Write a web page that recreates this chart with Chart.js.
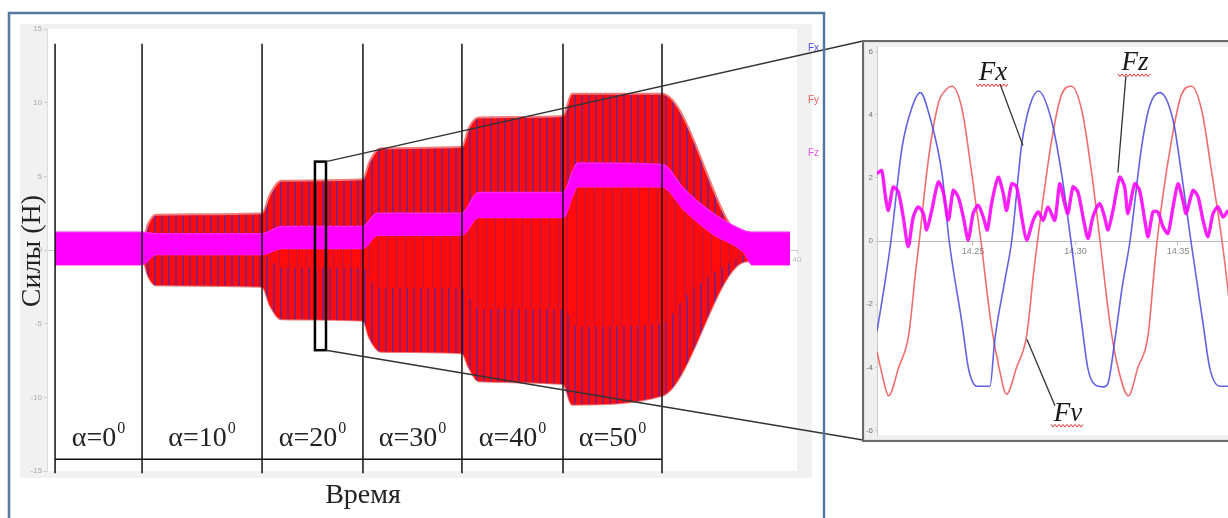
<!DOCTYPE html>
<html lang="ru">
<head>
<meta charset="UTF-8">
<title>Силы – время</title>
<script src="https://cdn.jsdelivr.net/npm/chart.js"></script>
<style>
  body { margin: 0; background: #fff; width: 1228px; height: 518px; overflow: hidden; position: relative; }
  #mainBox { position: absolute; left: 0; top: 0; width: 1228px; height: 518px; }
  #zoomBox { position: absolute; left: 862px; top: 40px; width: 378px; height: 402px; z-index: 2; }
</style>
</head>
<body>
<div id="mainBox"><canvas id="mainChart"></canvas></div>
<div id="zoomBox"><canvas id="zoomChart"></canvas></div>
<script>
// ---- left chart: envelopes of the dense oscillation (time in s, force in N)
const fyTimes = [0.43, 5.07, 5.4, 5.8, 11.47, 11.9, 12.5, 16.85, 17.2, 17.8, 22.13, 22.5, 23.0, 27.52, 28.0, 32.8, 37.2, 39.63];
const fyUpper = [0.6, 0.6, 1.8, 2.4, 2.5, 3.8, 4.7, 4.8, 6.0, 6.9, 7.0, 8.3, 9.0, 9.1, 10.6, 10.6, 0.8, 0.6];
const fyLower = [-0.6, -0.6, -1.8, -2.4, -2.5, -3.8, -4.7, -4.8, -6.0, -6.9, -7.0, -8.0, -8.9, -9.1, -10.5, -9.9, -0.8, -0.6];

// solid red core of Fy just below the Fz band
const coreTimes = [5.07, 5.8, 11.47, 12.5, 16.85, 17.6, 22.13, 23.0, 27.52, 28.3, 32.8, 34.0, 35.5, 37.2];
const coreUpper = [-0.6, -0.3, -0.3, 0.1, 0.1, 1.0, 1.0, 2.2, 2.2, 4.3, 4.3, 2.7, 1.1, -0.2];
const coreLower = [-0.6, -0.3, -0.3, -1.2, -1.2, -2.6, -2.6, -4.0, -4.0, -5.2, -5.0, -3.2, -1.6, -0.3];

const fzTimes = [0.43, 5.07, 5.8, 11.47, 12.5, 16.85, 17.6, 22.13, 23.0, 27.52, 28.3, 32.8, 34.0, 35.5, 37.2, 37.6, 39.63];
const fzUpper = [1.2, 1.2, 1.1, 1.1, 1.6, 1.6, 2.5, 2.5, 3.9, 3.9, 5.9, 5.8, 4.1, 2.5, 1.3, 1.2, 1.2];
const fzLower = [-1.0, -1.0, -0.3, -0.3, 0.1, 0.1, 1.0, 1.0, 2.2, 2.2, 4.3, 4.3, 2.7, 1.1, -0.2, -1.0, -1.0];

const dividerTimes = [0.43, 5.07, 11.47, 16.85, 22.13, 27.52, 32.8];
const angleLabels = ['0', '10', '20', '30', '40', '50'];
const zoomRectTimes = [14.29, 14.88];
const zoomRectValues = [6.0, -6.8];

// ---- right chart: zoomed window 14.20 … 14.38 s
const fxTime = [14.2032, 14.2071, 14.2100, 14.2154, 14.2202, 14.2243, 14.2292, 14.2349, 14.2384, 14.2446,
  14.2479, 14.2520, 14.2583, 14.2607, 14.2656, 14.2689, 14.2738, 14.2778, 14.2819, 14.2884,
  14.2933, 14.2978, 14.3030, 14.3061, 14.3095, 14.3139, 14.3159, 14.3193, 14.3227, 14.3266,
  14.3323, 14.3363, 14.3412, 14.3477, 14.3518, 14.3563, 14.3622, 14.3656, 14.3705, 14.3763];
const fxValues = [-2.86, -1.3, 0, 2.96, 4.22, 4.7, 3.87, 2.14, 0, -2.58,
  -4.06, -4.6, -4.6, -3.1, -1.23, 0, 3.07, 4.3, 4.75, 3.8,
  2.1, 0, -2.6, -4.05, -4.55, -4.62, -4.5, -3.1, -1.5, 0,
  3.0, 4.3, 4.7, 3.8, 2.1, 0, -2.6, -4.05, -4.6, -4.6];

const fyTime = [14.2032, 14.2056, 14.2089, 14.2138, 14.2186, 14.2220, 14.2238, 14.2284, 14.2333, 14.2363,
  14.2398, 14.2446, 14.2495, 14.2539, 14.2588, 14.2627, 14.2664, 14.2713, 14.2762, 14.2796,
  14.2815, 14.2884, 14.2933, 14.2981, 14.3032, 14.3080, 14.3120, 14.3168, 14.3207, 14.3258,
  14.3305, 14.3354, 14.3383, 14.3398, 14.3469, 14.3518, 14.3567, 14.3617, 14.3666, 14.3715, 14.3763];
const fyValues = [-3.5, -4.2, -4.9, -4.0, -3.0, -1.0, 0, 2.65, 4.4, 4.75,
  4.9, 4.2, 2.1, 0, -2.6, -4.0, -4.85, -4.0, -3.0, -1.0,
  0, 3.18, 4.65, 4.9, 4.1, 2.1, 0, -2.6, -4.0, -4.9,
  -4.0, -3.0, -1.0, 0, 3.2, 4.65, 4.9, 4.1, 2.1, 0, -2.6];

const fzTime = [14.2030, 14.2055, 14.2071, 14.2087, 14.2111, 14.2136, 14.2160, 14.2184, 14.2209, 14.2233,
  14.2258, 14.2274, 14.2299, 14.2331, 14.2355, 14.2380, 14.2404, 14.2428, 14.2453, 14.2477,
  14.2501, 14.2526, 14.2550, 14.2570, 14.2591, 14.2623, 14.2648, 14.2664, 14.2689, 14.2713,
  14.2738, 14.2762, 14.2794, 14.2819, 14.2843, 14.2866, 14.2899, 14.2923, 14.2947, 14.2963,
  14.2988, 14.3012, 14.3037, 14.3061, 14.3085, 14.3118, 14.3142, 14.3159, 14.3183, 14.3216,
  14.3240, 14.3256, 14.3289, 14.3313, 14.3338, 14.3354, 14.3378, 14.3402, 14.3427, 14.3451,
  14.3476, 14.3500, 14.3524, 14.3540, 14.3573, 14.3598, 14.3622, 14.3646, 14.3671, 14.3695,
  14.3720, 14.3744];
const fzValues = [2.13, 2.23, 1.5, 0.97, 1.71, 1.55, 0.76, -0.18, 0.76, 1.08,
  0.87, 0.35, 0.97, 1.87, 1.55, 0.66, 1.6, 1.4, 0.76, 0.03,
  0.87, 1.13, 0.76, 0.35, 1.19, 2.02, 1.5, 0.97, 1.81, 1.71,
  0.76, 0.03, 0.66, 0.92, 0.66, 1.08, 0.66, 1.81, 1.19, 0.87,
  1.71, 1.55, 0.76, 0.08, 0.76, 1.19, 0.76, 0.35, 0.97, 2.02,
  1.71, 0.87, 1.81, 1.6, 0.66, 0.14, 0.92, 0.92, 0.45, 0.24,
  1.08, 1.81, 1.29, 0.87, 1.6, 1.4, 0.66, 0.14, 0.87, 1.08,
  0.76, 0.97];

// callout labels on the zoomed chart
const calloutNames = ['Fx', 'Fz', 'Fv'];
const calloutTimes = [14.2598, 14.3290, 14.2963];
const calloutValues = [5.31, 5.63, -5.47];
const pointerFrom = [[14.2632, 4.97], [14.3246, 5.22], [14.2763, -3.11]];
const pointerTo = [[14.2744, 3.02], [14.3207, 2.17], [14.2900, -5.22]];

const SERIF = '"Liberation Serif", "Times New Roman", serif';
const toXY = (xs, ys) => xs.map((x, i) => ({ x: x, y: ys[i] }));

// red fill with dark Fx stripes
function makeStripes(period, stripeW, stripeColor) {
  const c = document.createElement('canvas');
  c.width = period; c.height = 2;
  const g = c.getContext('2d');
  g.fillStyle = '#ff0b0b'; g.fillRect(0, 0, period, 2);
  g.fillStyle = stripeColor; g.fillRect(0, 0, stripeW, 2);
  return g.createPattern(c, 'repeat');
}
const stripes = makeStripes(7, 2, 'rgba(95,35,155,0.7)');
const coreStripes = makeStripes(9, 1, 'rgba(120,30,140,0.5)');

function line(ctx, x1, y1, x2, y2) {
  ctx.beginPath(); ctx.moveTo(x1, y1); ctx.lineTo(x2, y2); ctx.stroke();
}

const mainDecor = {
  id: 'mainDecor',
  beforeDraw(chart) {
    const { ctx, chartArea: a } = chart;
    ctx.save();
    ctx.fillStyle = '#fff'; ctx.fillRect(0, 0, chart.width, chart.height);
    ctx.fillStyle = '#f1f1f1'; ctx.fillRect(20, 24, 792, 454);
    ctx.fillStyle = '#fff'; ctx.fillRect(a.left, a.top, a.right - a.left, a.bottom - a.top);
    ctx.restore();
  },
  afterDraw(chart) {
    const { ctx } = chart;
    const xs = chart.scales.x, ys = chart.scales.y;
    ctx.save();
    // segment dividers
    ctx.strokeStyle = '#111'; ctx.lineWidth = 1.5;
    dividerTimes.forEach(t => {
      const px = xs.getPixelForValue(t);
      line(ctx, px, ys.getPixelForValue(14.0), px, ys.getPixelForValue(-15.15));
    });
    line(ctx, xs.getPixelForValue(dividerTimes[0]), ys.getPixelForValue(-14.2),
      xs.getPixelForValue(dividerTimes[dividerTimes.length - 1]), ys.getPixelForValue(-14.2));
    // angle labels
    ctx.fillStyle = '#222'; ctx.textBaseline = 'alphabetic';
    angleLabels.forEach((a, i) => {
      const cx = (xs.getPixelForValue(dividerTimes[i]) + xs.getPixelForValue(dividerTimes[i + 1])) / 2;
      ctx.font = '28px ' + SERIF;
      const main = 'α=' + a;
      const w1 = ctx.measureText(main).width;
      ctx.font = '16px ' + SERIF;
      const w2 = ctx.measureText('0').width;
      const x0 = cx - (w1 + w2 + 1) / 2;
      ctx.font = '28px ' + SERIF; ctx.textAlign = 'left';
      ctx.fillText(main, x0, 446);
      ctx.font = '16px ' + SERIF;
      ctx.fillText('0', x0 + w1 + 1, 433);
    });
    // zoom window and connectors
    const rx1 = xs.getPixelForValue(zoomRectTimes[0]), rx2 = xs.getPixelForValue(zoomRectTimes[1]);
    const ry1 = ys.getPixelForValue(zoomRectValues[0]), ry2 = ys.getPixelForValue(zoomRectValues[1]);
    ctx.lineWidth = 2.5; ctx.strokeStyle = '#000';
    ctx.strokeRect(rx1, ry1, rx2 - rx1, ry2 - ry1);
    ctx.lineWidth = 1.4; ctx.strokeStyle = '#333';
    line(ctx, rx2, ry1, 863, 41);
    line(ctx, rx2, ry2, 863, 440);
    // axis titles
    ctx.fillStyle = '#222'; ctx.textAlign = 'center';
    ctx.font = '28px ' + SERIF;
    ctx.fillText('Время', 363, 503);
    ctx.translate(40, 251); ctx.rotate(-Math.PI / 2);
    ctx.fillText('Силы (Н)', 0, 0);
    ctx.setTransform(1, 0, 0, 1, 0, 0);
    // series names
    ctx.font = '10px "Liberation Sans", Arial, sans-serif'; ctx.textAlign = 'left'; ctx.textBaseline = 'middle';
    ctx.fillStyle = '#5050dd'; ctx.fillText('Fx', 808, 48);
    ctx.fillStyle = '#ee5a5a'; ctx.fillText('Fy', 808, 100);
    ctx.fillStyle = '#ee55ee'; ctx.fillText('Fz', 808, 153);
    // frame
    ctx.strokeStyle = '#54789e'; ctx.lineWidth = 2.5;
    ctx.strokeRect(9, 13, 815, 520);
    ctx.restore();
  }
};

const mainChart = new Chart(document.getElementById('mainChart'), {
  type: 'line',
  data: {
    datasets: [
      { label: 'Fz+', data: toXY(fzTimes, fzUpper), fill: '+1', backgroundColor: '#ff00ff', borderColor: '#ff22ff', borderWidth: 1.5 },
      { label: 'Fz-', data: toXY(fzTimes, fzLower), fill: false, borderColor: '#ff22ff', borderWidth: 1.5 },
      { label: 'core+', data: toXY(coreTimes, coreUpper), fill: '+1', backgroundColor: coreStripes, borderWidth: 0 },
      { label: 'core-', data: toXY(coreTimes, coreLower), fill: false, borderWidth: 0 },
      { label: 'Fy+', data: toXY(fyTimes, fyUpper), fill: '+1', backgroundColor: stripes, borderColor: '#f27a7a', borderWidth: 2 },
      { label: 'Fy-', data: toXY(fyTimes, fyLower), fill: false, borderColor: '#f27a7a', borderWidth: 2 }
    ]
  },
  options: {
    animation: false, responsive: true, maintainAspectRatio: false, events: [],
    layout: { padding: { left: 27, right: 431, top: 29, bottom: 47 } },
    elements: { point: { radius: 0 }, line: { cubicInterpolationMode: 'monotone' } },
    plugins: { legend: { display: false }, tooltip: { enabled: false } },
    scales: {
      x: {
        type: 'linear', axis: 'x', position: { y: 0 }, min: 0, max: 40,
        ticks: { stepSize: 5, autoSkip: false, maxRotation: 0, color: '#bbb', font: { size: 8 },
          callback: v => (v === 40 ? '40' : '') },
        grid: { drawOnChartArea: false, tickLength: 2, color: '#ccc' },
        border: { color: '#ccc' }
      },
      y: {
        min: -15, max: 15,
        afterFit: s => { s.width = 20; },
        ticks: { stepSize: 5, color: '#aaa', font: { size: 8 }, padding: 2 },
        grid: { drawOnChartArea: false, tickLength: 3, color: '#ccc' },
        border: { color: '#ddd' }
      }
    }
  },
  plugins: [mainDecor]
});

function squiggle(ctx, x1, x2, y) {
  ctx.beginPath();
  for (let x = x1, k = 0; x <= x2; x += 2, k++) {
    const yy = y + (k % 2 ? 1.3 : -1.3);
    if (k === 0) ctx.moveTo(x, yy); else ctx.lineTo(x, yy);
  }
  ctx.stroke();
}

const zoomDecor = {
  id: 'zoomDecor',
  beforeDraw(chart) {
    const { ctx, chartArea: a } = chart;
    ctx.save();
    ctx.fillStyle = '#efefef'; ctx.fillRect(0, 0, chart.width, chart.height);
    ctx.fillStyle = '#fff'; ctx.fillRect(a.left, a.top, a.right - a.left, a.bottom - a.top);
    ctx.restore();
  },
  afterDraw(chart) {
    const { ctx } = chart;
    const xs = chart.scales.x, ys = chart.scales.y;
    ctx.save();
    ctx.strokeStyle = '#333'; ctx.lineWidth = 1.3;
    pointerFrom.forEach((p, i) => {
      line(ctx, xs.getPixelForValue(p[0]), ys.getPixelForValue(p[1]),
        xs.getPixelForValue(pointerTo[i][0]), ys.getPixelForValue(pointerTo[i][1]));
    });
    ctx.font = 'italic 27px ' + SERIF; ctx.textAlign = 'center'; ctx.textBaseline = 'middle';
    calloutNames.forEach((n, i) => {
      const cx = xs.getPixelForValue(calloutTimes[i]), cy = ys.getPixelForValue(calloutValues[i]);
      ctx.fillStyle = '#1a1a1a';
      ctx.fillText(n, cx, cy);
      ctx.strokeStyle = '#e03030'; ctx.lineWidth = 1;
      squiggle(ctx, cx - 17, cx + 15, cy + 12);
    });
    ctx.strokeStyle = '#6a6a6a'; ctx.lineWidth = 2.2;
    ctx.strokeRect(1, 1, chart.width + 10, chart.height - 2);
    ctx.restore();
  }
};

const zoomChart = new Chart(document.getElementById('zoomChart'), {
  type: 'line',
  data: {
    datasets: [
      { label: 'Fz', data: toXY(fzTime, fzValues), borderColor: 'rgba(250,0,250,0.88)', borderWidth: 3.4, tension: 0.25, cubicInterpolationMode: 'default' },
      { label: 'Fx', data: toXY(fxTime, fxValues), borderColor: 'rgba(70,70,225,0.85)', borderWidth: 1.6 },
      { label: 'Fy', data: toXY(fyTime, fyValues), borderColor: 'rgba(240,85,85,0.85)', borderWidth: 1.6 }
    ]
  },
  options: {
    animation: false, responsive: true, maintainAspectRatio: false, events: [],
    layout: { padding: { left: 3, right: 4, top: 5, bottom: 5 } },
    elements: { point: { radius: 0 }, line: { cubicInterpolationMode: 'monotone', fill: false } },
    plugins: { legend: { display: false }, tooltip: { enabled: false } },
    scales: {
      x: {
        type: 'linear', axis: 'x', position: { y: 0 }, min: 14.2032, max: 14.3783,
        ticks: { stepSize: 0.05, includeBounds: false, autoSkip: false, maxRotation: 0, color: '#888',
          font: { size: 9 }, padding: 2, callback: v => v.toFixed(2) },
        grid: { drawOnChartArea: false, tickLength: 3, color: '#bbb' },
        border: { color: '#bbb' }
      },
      y: {
        min: -6.15, max: 6.15,
        afterFit: s => { s.width = 12; },
        ticks: { stepSize: 2, includeBounds: false, color: '#777', font: { size: 8 }, padding: 2 },
        grid: { drawOnChartArea: false, tickLength: 2, color: '#ccc' },
        border: { color: '#ccc' }
      }
    }
  },
  plugins: [zoomDecor]
});
</script>
</body>
</html>
